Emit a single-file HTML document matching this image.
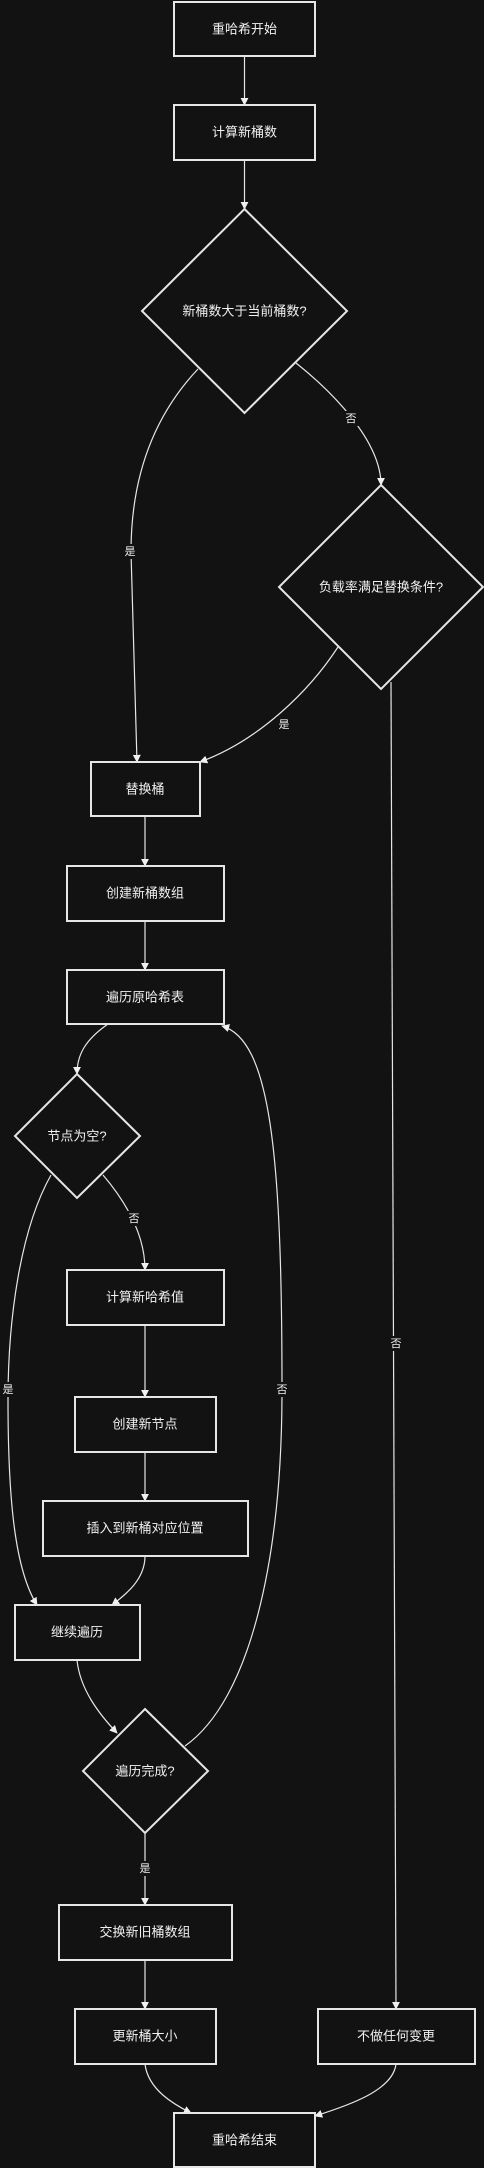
<!DOCTYPE html>
<html><head><meta charset="utf-8"><style>
html,body{margin:0;padding:0;background:#121212;}
svg{display:block;}
text{font-family:"Liberation Sans","Noto Sans CJK SC",sans-serif;fill:#f0f0f0;}
.n{font-size:13px;text-anchor:middle;dominant-baseline:central;}
.l{font-size:11px;text-anchor:middle;dominant-baseline:central;}
.b{fill:#121212;stroke:#e6e6e6;stroke-width:2;}
.e{fill:none;stroke:#e6e6e6;stroke-width:1.2;}
</style></head><body>
<svg width="484" height="2168" viewBox="0 0 484 2168" xmlns="http://www.w3.org/2000/svg">
<defs><marker id="a" viewBox="0 0 10 10" refX="9" refY="5" markerWidth="8" markerHeight="8" markerUnits="userSpaceOnUse" orient="auto"><path d="M0,0L10,5L0,10z" fill="#f0f0f0"/></marker></defs>
<g class="e" marker-end="url(#a)">
<path d="M244.5,56V105"/>
<path d="M244.5,160V209"/>
<path d="M296,363C330,390 381,440 381,485"/>
<path d="M198,369Q131,440 131,552L137,762"/>
<path d="M338,647C310,690 260,740 200,762"/>
<path d="M391,682L396,2009"/>
<path d="M145,816V866"/>
<path d="M145,921V970"/>
<path d="M108,1024C85,1040 77,1055 77,1074"/>
<path d="M103,1175C120,1195 145,1230 145,1270"/>
<path d="M51,1175C20,1230 8,1320 8,1400C8,1500 15,1570 37,1605"/>
<path d="M145,1325V1397"/>
<path d="M145,1452V1501"/>
<path d="M145,1556C145,1580 125,1595 112,1605"/>
<path d="M77,1660C80,1690 100,1715 117,1733"/>
<path d="M185,1746C250,1700 282,1560 282,1390C282,1150 270,1040 222,1026"/>
<path d="M145,1833V1905"/>
<path d="M145,1960V2009"/>
<path d="M145,2064C148,2090 175,2105 191,2113"/>
<path d="M396,2064C393,2090 350,2105 315,2116"/>
</g>
<rect class="b" x="174" y="2" width="141" height="54"/><text class="n" x="244.5" y="29">重哈希开始</text>
<rect class="b" x="174" y="105" width="141" height="55"/><text class="n" x="244.5" y="132">计算新桶数</text>
<polygon class="b" points="244.5,209 347,311 244.5,413 142,311"/><text class="n" x="244.5" y="311">新桶数大于当前桶数?</text>
<polygon class="b" points="381,485 483,587 381,689 279,587"/><text class="n" x="381" y="587">负载率满足替换条件?</text>
<rect class="b" x="91" y="762" width="109" height="54"/><text class="n" x="145" y="789">替换桶</text>
<rect class="b" x="67" y="866" width="157" height="55"/><text class="n" x="145" y="893">创建新桶数组</text>
<rect class="b" x="67" y="970" width="157" height="54"/><text class="n" x="145" y="997">遍历原哈希表</text>
<polygon class="b" points="77,1074 140,1136 77,1198 15,1136"/><text class="n" x="77" y="1136">节点为空?</text>
<rect class="b" x="67" y="1270" width="157" height="55"/><text class="n" x="145" y="1297">计算新哈希值</text>
<rect class="b" x="75" y="1397" width="141" height="55"/><text class="n" x="145" y="1424">创建新节点</text>
<rect class="b" x="43" y="1501" width="205" height="55"/><text class="n" x="145" y="1528">插入到新桶对应位置</text>
<rect class="b" x="15" y="1605" width="125" height="55"/><text class="n" x="77" y="1632">继续遍历</text>
<polygon class="b" points="145,1709 208,1771 145,1833 83,1771"/><text class="n" x="145" y="1771">遍历完成?</text>
<rect class="b" x="59" y="1905" width="173" height="55"/><text class="n" x="145" y="1932">交换新旧桶数组</text>
<rect class="b" x="75" y="2009" width="141" height="55"/><text class="n" x="145" y="2036">更新桶大小</text>
<rect class="b" x="318" y="2009" width="157" height="55"/><text class="n" x="396" y="2036">不做任何变更</text>
<rect class="b" x="174" y="2113" width="141" height="54"/><text class="n" x="244.5" y="2140">重哈希结束</text>
<g>
<rect x="343" y="411" width="16" height="15" fill="#121212"/><text class="l" x="351" y="419">否</text>
<rect x="122" y="544" width="16" height="15" fill="#121212"/><text class="l" x="130" y="552">是</text>
<rect x="276" y="717" width="16" height="15" fill="#121212"/><text class="l" x="284" y="725">是</text>
<rect x="126" y="1211" width="16" height="15" fill="#121212"/><text class="l" x="134" y="1219">否</text>
<rect x="0" y="1382" width="16" height="15" fill="#121212"/><text class="l" x="8" y="1390">是</text>
<rect x="274" y="1382" width="16" height="15" fill="#121212"/><text class="l" x="282" y="1390">否</text>
<rect x="388" y="1336" width="16" height="15" fill="#121212"/><text class="l" x="396" y="1344">否</text>
<rect x="137" y="1861" width="16" height="15" fill="#121212"/><text class="l" x="145" y="1869">是</text>
</g>
</svg>
</body></html>
